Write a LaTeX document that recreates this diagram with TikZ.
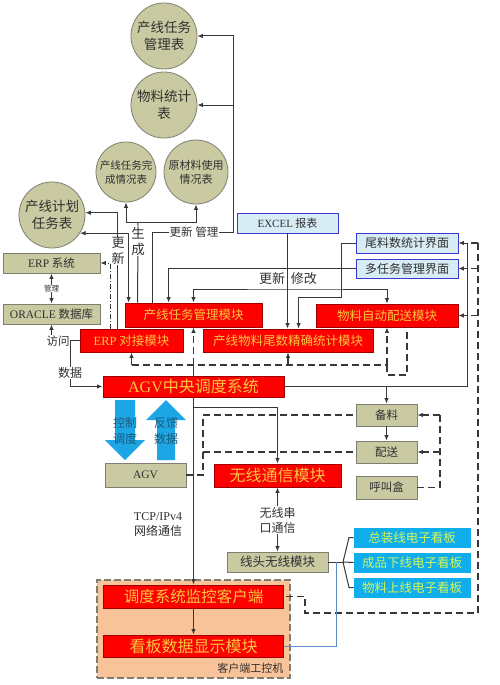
\documentclass[tikz,border=0pt]{standalone}
\usepackage{fontspec}
\setmainfont{Noto Sans CJK SC}
\newfontfamily\lat{Liberation Serif}
\usetikzlibrary{arrows.meta,calc}
\definecolor{khaki}{HTML}{C9C9A2}
\definecolor{kborder}{HTML}{7F7F70}
\definecolor{ktext}{HTML}{303030}
\definecolor{rborder}{HTML}{A00000}
\definecolor{rtext}{HTML}{F7C640}
\definecolor{lblue}{HTML}{D7ECF4}
\definecolor{lbborder}{HTML}{3A3AD0}
\definecolor{cyanb}{HTML}{10AEEC}
\definecolor{ctext}{HTML}{D4F55A}
\definecolor{lc}{HTML}{383838}
\definecolor{bigblue}{HTML}{1CA6E6}
\definecolor{arrtext}{HTML}{1E5A78}
\definecolor{orangec}{HTML}{F9C39A}
\definecolor{bline}{HTML}{5B8BC8}
\begin{document}
\begin{tikzpicture}[x=1pt,y=-1pt,
  box/.style={draw, rectangle, inner sep=0pt, align=center, line width=0.8pt},
  kbox/.style={box, fill=khaki, draw=kborder, text=ktext, font=\fontsize{11.5}{13}\selectfont},
  rbox/.style={box, fill=red, draw=rborder, text=rtext, font=\fontsize{12.5}{14}\selectfont},
  rboxb/.style={rbox, font=\fontsize{16}{18}\selectfont},
  lbox/.style={box, fill=lblue, draw=lbborder, text=ktext, font=\fontsize{12}{14}\selectfont},
  cbox/.style={box, fill=cyanb, draw=cyanb, text=ctext, font=\fontsize{12.5}{14}\selectfont},
  circ/.style={circle, draw=kborder, fill=khaki, line width=0.8pt, align=center, inner sep=0pt, text=ktext},
  wh/.style={fill=white, inner sep=1pt, align=center, text=ktext},
  ln/.style={draw=lc, line width=1pt},
  arr/.style={ln, -{Latex[length=5.5pt,width=4.5pt]}},
  arrbi/.style={ln, {Latex[length=5.5pt,width=4.5pt]}-{Latex[length=5.5pt,width=4.5pt]}},
  dsh/.style={ln, line width=1.1pt, dash pattern=on 7pt off 4pt},
  dsharr/.style={dsh, -{Latex[length=5.5pt,width=4.5pt]}}
]
\useasboundingbox (0,0) rectangle (500,685);
\fill[white] (0,0) rectangle (500,685);

% container
\node[draw=kborder, fill=orangec, dash pattern=on 7pt off 3pt, line width=1.8pt, minimum width=193pt, minimum height=98pt, inner sep=0pt] (cont) at (193.5,629) {};
\node[text=ktext, font=\fontsize{11}{13}\selectfont, anchor=east] (contlab) at (287,668) {客户端工控机};

% circles
\node[circ, minimum size=66pt, font=\fontsize{13.5}{17}\selectfont] (c1) at (164,36) {产线任务\\管理表};
\node[circ, minimum size=66pt, font=\fontsize{13.5}{17}\selectfont] (c2) at (164,105) {物料统计\\表};
\node[circ, minimum size=60pt, font=\fontsize{10.5}{14}\selectfont] (c3) at (126,172) {产线任务完\\成情况表};
\node[circ, minimum size=64pt, font=\fontsize{11}{14}\selectfont] (c4) at (196,172) {原材料使用\\情况表};
\node[circ, minimum size=66pt, font=\fontsize{13.5}{17}\selectfont] (c5) at (52,215) {产线计划\\任务表};

% khaki boxes
\node[kbox, minimum width=97pt, minimum height=20pt] (erp) at (51.5,263) {{\lat ERP} 系统};
\node[kbox, minimum width=97pt, minimum height=20pt] (ora) at (51.5,314) {{\lat ORACLE} 数据库};
\node[kbox, minimum width=81pt, minimum height=24pt] (agv) at (145.5,475) {\lat AGV};
\node[kbox, minimum width=61pt, minimum height=22pt] (bl) at (386.5,415) {备料};
\node[kbox, minimum width=61pt, minimum height=22pt] (ps) at (386.5,452) {配送};
\node[kbox, minimum width=61pt, minimum height=23pt] (hjh) at (386.5,487.5) {呼叫盒};
\node[kbox, minimum width=101pt, minimum height=20pt, font=\fontsize{12.5}{14}\selectfont] (xt) at (277.5,562) {线头无线模块};

% light blue boxes
\node[lbox, minimum width=101pt, minimum height=20pt, font=\fontsize{11}{13}\selectfont] (excel) at (287.5,223) {{\lat EXCEL} 报表};
\node[lbox, minimum width=102pt, minimum height=20pt] (wljm) at (407,243) {尾料数统计界面};
\node[lbox, minimum width=102pt, minimum height=19pt] (dr) at (407,268.5) {多任务管理界面};

% red boxes
\node[rbox, minimum width=137pt, minimum height=24pt] (ptm) at (193.5,315) {产线任务管理模块};
\node[rbox, minimum width=103pt, minimum height=23pt] (erpd) at (131.5,340.5) {{\lat ERP} 对接模块};
\node[rbox, minimum width=170pt, minimum height=23pt] (wst) at (288,340.5) {产线物料尾数精确统计模块};
\node[rbox, minimum width=142pt, minimum height=23pt] (wlps) at (387,315.5) {物料自动配送模块};
\node[rboxb, minimum width=181pt, minimum height=21pt] (agvc) at (193.5,386.5) {{\lat AGV}中央调度系统};
\node[rboxb, minimum width=127pt, minimum height=23pt] (wx) at (277.5,475.5) {无线通信模块};
\node[rboxb, minimum width=180pt, minimum height=23pt, font=\fontsize{15.5}{17}\selectfont] (jk) at (193.5,596.5) {调度系统监控客户端};
\node[rboxb, minimum width=180pt, minimum height=22pt] (kb) at (193.5,646) {看板数据显示模块};

% cyan boards
\node[cbox, minimum width=116pt, minimum height=19pt] (kb1) at (412,537.5) {总装线电子看板};
\node[cbox, minimum width=116pt, minimum height=19pt] (kb2) at (412,562.5) {成品下线电子看板};
\node[cbox, minimum width=116pt, minimum height=19pt] (kb3) at (412,587.5) {物料上线电子看板};

% big blue arrows
\fill[bigblue] (115,400) -- (135,400) -- (135,440) -- (145,440) -- (125,460) -- (105,440) -- (115,440) -- cycle;
\fill[bigblue] (157,460) -- (175,460) -- (175,420) -- (186,420) -- (166,400) -- (146,420) -- (157,420) -- cycle;
\node[text=arrtext, align=center, font=\fontsize{12}{16}\selectfont] (kz) at (125,431) {控制\\调度};
\node[text=arrtext, align=center, font=\fontsize{12}{16}\selectfont] (fk) at (166,431) {反馈\\数据};

% ---- connectors ----
% update/manage to top circles
\coordinate (gm) at (233,232);
\draw[arr] ($(ptm.north west)+(28,0)$) |- (gm) |- (c1.east);
\draw[arr] (gm |- c2.east) -- (c2.east);
\node[wh, font=\fontsize{11.5}{13}\selectfont] (lgm) at (194,232) {更新\ 管理};

% generate
\coordinate (sc) at (138,222);
\draw[ln] ($(ptm.north west)+(13,0)$) -- (sc);
\draw[arr] (sc) -| (c3.south);
\draw[arr] (sc) -| (c4.south);
\node[wh, font=\fontsize{13.5}{16}\selectfont] (lsc) at (138,241) {生\\成};

% plan table <-> task management
\draw[arrbi] (c5.-33) -| ($(ptm.north west)+(4,0)$);
% ERP dock -> plan table
\draw[arr] ($(erpd.north west)+(38,0)$) |- (c5.4);
\node[wh, font=\fontsize{13}{16}\selectfont, inner sep=0.5pt] (lgx) at (118,251) {更\\新};
% ERP dock -> ERP system (dash dot)
\draw[ln, dash pattern=on 5pt off 2pt on 1pt off 2pt, -{Latex[length=5.5pt,width=4.5pt]}] ($(erpd.north west)+(31,0)$) |- (erp.east);

% ERP <-> ORACLE
\draw[arrbi] (erp.south) -- (ora.north);
\node[wh, font=\fontsize{7.5}{9}\selectfont, inner sep=0.5pt] (lgl) at (51.5,288.5) {管理};

% ERP dock -> ORACLE / AGV central
\coordinate (ej) at (70,340.5);
\draw[ln] (erpd.west) -- (ej);
\draw[arr] (ej) -| (ora.south);
\node[wh, font=\fontsize{11.5}{13}\selectfont, inner sep=0.5pt] (lfw) at (58,341) {访问};
\draw[arr] (ej) |- (agvc.west);
\node[wh, font=\fontsize{12}{14}\selectfont, inner sep=0.5pt] (lsj) at (70,373) {数据};

% EXCEL -> tail stats
\draw[arr] (excel.south) -- (excel.south |- wst.north);
% multi task -> task management
\draw[arr] (dr.west) -| ($(ptm.north west)+(44,0)$);
% tail UI -> tail stats
\coordinate (k1) at (341,297);
\draw[arr] (wljm.west) -| (k1) -| ($(wst.north west)+(96,0)$);
% update / modify
\coordinate (k2) at (300,289);
\draw[arrbi] (ptm.north) |- (k2) -| (wlps.north);
\node[text=ktext, font=\fontsize{13}{15}\selectfont] (lgxg) at (288,279) {更新\ \ 修改};

% dashed bus
\coordinate (bL) at (131.5,365);
\coordinate (bR) at (387,365);
\draw[dsh] (bL) -- (bR);
\draw[dsharr] (bL) -- (erpd.south);
\draw[ln] (agvc.north) -- (agvc.north |- bL);
\draw[dsharr] (agvc.north |- bL) -- (ptm.south);
\draw[dsharr] (wst.south |- bL) -- (wst.south);
\draw[dsharr] (bR) -- (wlps.south);
\draw[dsh] (bR) -- (387,375) -- (407,375) -- ($(wlps.south)+(20,0)$);

% AGV central right -> UIs, backup
\coordinate (rv) at (467,0);
\draw[arr] (agvc.east) -| (rv |- wljm.east) -- (wljm.east);
\draw[arr] (rv |- dr.east) -- (dr.east);
\draw[arr] (rv |- wlps.east) -- (wlps.east);
\draw[arr] (agvc.east -| bl.north) -- (bl.north);

% long dashed line from monitor client
\coordinate (dv) at (478,0);
\draw[dsh] (dv |- wljm.east) -- (478,613) -- (305,613) -- (305,596.5) -- (jk.east);
\draw[dsh] (dv |- wljm.east) -- (rv |- wljm.east);
\draw[dsh] (dv |- dr.east) -- (rv |- dr.east);
\draw[dsh] (dv |- wlps.east) -- (rv |- wlps.east);

% AGV -> prepare / deliver
\coordinate (av) at (203,475);
\draw[dsh] (agv.east) -- (av) |- (bl.west);
\draw[dsh] (av |- ps.west) -- (ps.west);

% AGV central -> wireless
\coordinate (w1) at (193.5,407);
\draw[arr] (w1) -| (wx.north);
% TCP
\draw[arr] (agvc.south) -- (jk.north);
\node[text=ktext, align=center, font=\fontsize{12}{15}\selectfont] (ltcp) at (158,525) {{\lat TCP/IPv4}\\网络通信};

% wireless <-> line head
\draw[arrbi] (wx.south) -- (xt.north);
\node[wh, font=\fontsize{12}{15}\selectfont] (lwx) at (277.5,520) {无线串\\口通信};

% prepare -> deliver
\draw[arr] (bl.south) -- (ps.north);
% call box
\coordinate (hv) at (440,0);
\draw[dsh] (hjh.east) -| (hv |- bl.east);
\draw[dsharr] (hv |- bl.east) -- (bl.east);
\draw[dsharr] (hv |- ps.east) -- (ps.east);

% line head -> boards
\coordinate (bk) at (343,562);
\draw[ln] (xt.east) -- (bk);
\draw[ln] (bk) -- (349,537.5) -- (kb1.west);
\draw[ln] (bk) -- (kb2.west);
\draw[ln] (bk) -- (349,587.5) -- (kb3.west);
\coordinate (bb) at (336,562);
\draw[draw=bline, line width=1pt] (bb) |- (kb.east);

% monitor -> board display
\draw[arr] (jk.south) -- (kb.north);
\end{tikzpicture}
\end{document}
